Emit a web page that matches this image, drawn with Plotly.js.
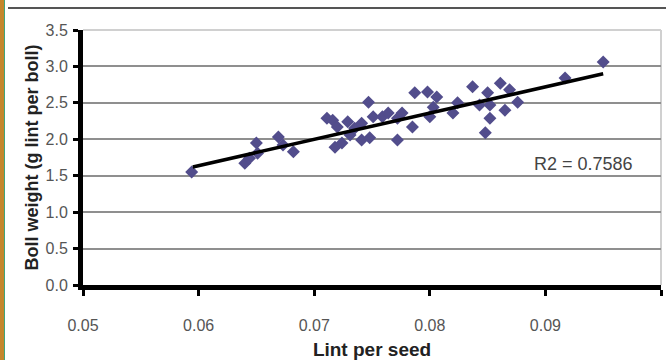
<!DOCTYPE html>
<html>
<head>
<meta charset="utf-8">
<script src="https://cdn.plot.ly/plotly-3.0.1.min.js"></script>
<style>
html,body{margin:0;padding:0;background:#fff;}
#wrap{position:relative;width:666px;height:360px;overflow:hidden;}
#chart{width:666px;height:360px;}
.deco{position:absolute;pointer-events:none;}
</style>
</head>
<body>
<div id="wrap">
<div id="chart"></div>
<div class="deco" style="left:0;top:0;width:4px;height:360px;background:#c4862c;"></div>
<div class="deco" style="left:4px;top:0;width:1px;height:360px;background:#3fa57a;"></div>
<div class="deco" style="left:8px;top:7px;width:658px;height:2px;background:#555;"></div>
</div>
<script>
// Lint per seed (x) and boll weight (y)
const lintPerSeed = [0.0594,0.0640,0.0644,0.0650,0.0651,0.0669,0.0673,0.0682,
  0.0711,0.0716,0.0720,0.0718,0.0724,0.0729,0.0731,0.0735,0.0741,0.0741,0.0747,0.0748,
  0.0751,0.0759,0.0764,0.0772,0.0772,0.0776,0.0785,0.0787,0.0798,0.0806,0.0803,0.0800,
  0.0820,0.0824,0.0837,0.0843,0.0848,0.0850,0.0852,0.0852,0.0861,0.0865,0.0869,0.0876,
  0.0917,0.0950];
const bollWeight = [1.55,1.67,1.74,1.95,1.81,2.03,1.92,1.83,
  2.29,2.26,2.17,1.89,1.95,2.24,2.06,2.15,2.22,1.99,2.51,2.02,
  2.31,2.31,2.36,2.29,1.99,2.36,2.17,2.64,2.65,2.58,2.44,2.31,
  2.36,2.50,2.72,2.47,2.09,2.64,2.29,2.47,2.77,2.40,2.68,2.51,
  2.84,3.06];
// Trend line end points
const trendX = [0.0595, 0.0950];
const trendY = [1.62, 2.90];
const xTicks = [0.05,0.06,0.07,0.08,0.09,0.1];
const xTickText = ['0.05','0.06','0.07','0.08','0.09','0.1'];
const yTicks = [0,0.5,1,1.5,2,2.5,3,3.5];
const yTickText = ['0.0','0.5','1.0','1.5','2.0','2.5','3.0','3.5'];
const r2Label = 'R2 = 0.7586';

const font = 'Liberation Sans, Arial, sans-serif';

const traces = [
  {x: lintPerSeed, y: bollWeight, type:'scatter', mode:'markers',
   marker:{symbol:'diamond', size:10, color:'#524d8c', line:{width:0}},
   hoverinfo:'x+y'},
  {x: trendX, y: trendY, type:'scatter', mode:'lines',
   line:{color:'#000', width:3.5}, hoverinfo:'skip'}
];

const layout = {
  width:666, height:360,
  margin:{l:83, r:5, t:30, b:75},
  paper_bgcolor:'#fff', plot_bgcolor:'#fff',
  showlegend:false,
  font:{family:font, size:16, color:'#333'},
  xaxis:{range:[0.05,0.1], tickvals:xTicks, ticktext:xTickText,
    showgrid:false, zeroline:false,
    showline:true, linecolor:'#000', linewidth:5,
    ticks:'outside', ticklen:6, tickwidth:3, tickcolor:'#000',
    ticklabelstandoff:16,
    tickfont:{family:font, size:16, color:'#555'},
    title:{text:'Lint per seed', font:{family:font, size:19, color:'#222', weight:'bold'}, standoff:13}},
  yaxis:{range:[0,3.5], tickvals:yTicks, ticktext:yTickText,
    showgrid:true, gridcolor:'#8f8f8f', gridwidth:2, zeroline:false,
    showline:true, linecolor:'#000', linewidth:5,
    ticks:'outside', ticklen:5, tickwidth:3, tickcolor:'#000',
    ticklabelstandoff:2,
    tickfont:{family:font, size:16, color:'#555'},
    title:{text:'Boll weight (g lint per boll)', font:{family:font, size:18, color:'#222', weight:'bold'}, standoff:4}},
  shapes:[
    {type:'line', xref:'paper', yref:'paper', x0:0, x1:1, y0:1, y1:1, line:{color:'#d0d0d0', width:2}, layer:'above'},
    {type:'line', xref:'paper', yref:'paper', x0:1, x1:1, y0:0, y1:1, line:{color:'#d0d0d0', width:2}, layer:'below'}
  ],
  annotations:[
    {x:0.0933, y:1.66, xref:'x', yref:'y', text:r2Label, showarrow:false,
     font:{family:font, size:18, color:'#444'}}
  ]
};

Plotly.newPlot('chart', traces, layout, {displayModeBar:false, staticPlot:true});
</script>
</body>
</html>
